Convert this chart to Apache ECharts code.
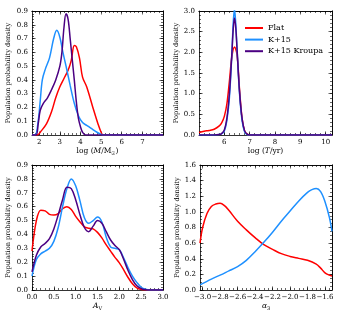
<!DOCTYPE html>
<html><head><meta charset="utf-8">
<script src="https://cdn.jsdelivr.net/npm/echarts@6/dist/echarts.min.js"></script>
<style>html,body{margin:0;padding:0;background:#fff}#c{width:340px;height:319px}</style>
</head><body><div id="c"></div>
<script>
// ---- Data ----
const seriesNames = ['Flat', 'K+15', 'K+15 Kroupa'];

// Panel 1: log(M/Msun)
const massFlatX = [1.65,1.9,2.1,2.35,2.6,2.8,3.0,3.2,3.4,3.55,3.7,3.8,3.95,4.1,4.3,4.6,4.85,5.0,5.1,8];
const massFlatY = [0,0,0.03,0.08,0.17,0.27,0.35,0.41,0.47,0.54,0.65,0.64,0.56,0.42,0.35,0.2,0.08,0.02,0,0];
const massK15X = [1.65,1.8,1.95,2.05,2.15,2.3,2.5,2.7,2.85,3.0,3.15,3.3,3.5,3.7,3.9,4.1,4.3,4.5,4.8,5.0,5.1,8];
const massK15Y = [0,0,0.1,0.25,0.4,0.48,0.56,0.7,0.76,0.71,0.6,0.5,0.36,0.23,0.14,0.09,0.07,0.05,0.02,0.005,0,0];
const massKrX = [1.65,1.85,1.95,2.05,2.2,2.4,2.6,2.8,3.0,3.1,3.2,3.3,3.4,3.5,3.6,3.7,3.8,3.9,4.0,4.1,4.25,8];
const massKrY = [0,0,0.08,0.18,0.23,0.27,0.33,0.4,0.5,0.6,0.78,0.88,0.84,0.7,0.55,0.4,0.24,0.12,0.06,0.02,0,0];

// Panel 2: log(T/yr)
const ageFlatX = [5.0,5.2,5.4,5.6,5.8,5.9,6.0,6.1,6.2,6.3,6.4,6.5,6.6,6.7,6.8,6.9,7.0,7.5,10.25];
const ageFlatY = [0.06,0.09,0.11,0.14,0.22,0.3,0.45,0.75,1.3,1.9,2.13,1.95,1.1,0.4,0.1,0.02,0,0,0];
const ageK15X = [5.0,5.6,5.8,5.9,6.0,6.1,6.2,6.3,6.35,6.4,6.45,6.5,6.6,6.7,6.8,6.9,7.0,10.25];
const ageK15Y = [0,0,0.01,0.03,0.1,0.35,0.9,2.0,2.7,3.05,2.7,2.1,1.0,0.35,0.08,0.01,0,0];
const ageKrX = [5.0,5.6,5.8,5.9,6.0,6.1,6.2,6.3,6.35,6.4,6.45,6.5,6.6,6.7,6.8,6.9,7.0,10.25];
const ageKrY = [0,0,0.01,0.04,0.12,0.4,1.0,2.0,2.55,2.83,2.6,2.1,1.05,0.4,0.1,0.02,0,0];

// Panel 3: Av
const avX = [0,0.1,0.2,0.3,0.4,0.5,0.6,0.7,0.8,0.9,1.0,1.1,1.2,1.3,1.4,1.5,1.6,1.7,1.8,1.9,2.0,2.1,2.2,2.3,2.4,2.5,2.6,2.7,2.8,2.9,3.0];
const avFlatY = [0.28,0.5,0.575,0.57,0.545,0.54,0.55,0.585,0.6,0.58,0.53,0.49,0.455,0.445,0.44,0.415,0.375,0.325,0.28,0.235,0.195,0.145,0.09,0.045,0.015,0.003,0,0,0,0,0];
const avK15Y = [0.1,0.22,0.26,0.28,0.3,0.35,0.45,0.6,0.73,0.8,0.75,0.64,0.52,0.48,0.5,0.525,0.49,0.38,0.31,0.3,0.29,0.23,0.16,0.1,0.055,0.02,0.005,0,0,0,0];
const avKrY = [0.13,0.25,0.31,0.335,0.37,0.44,0.54,0.65,0.74,0.73,0.65,0.54,0.45,0.42,0.46,0.5,0.48,0.42,0.36,0.32,0.29,0.22,0.14,0.075,0.03,0.01,0.002,0,0,0,0];

// Panel 4: alpha3
const a3FlatX = [-3.03,-3.0,-2.95,-2.9,-2.85,-2.8,-2.75,-2.7,-2.6,-2.5,-2.4,-2.3,-2.2,-2.1,-2.0,-1.9,-1.8,-1.7,-1.65,-1.6,-1.55,-1.52];
const a3FlatY = [0.6,0.8,0.98,1.07,1.1,1.11,1.08,1.02,0.88,0.77,0.67,0.58,0.52,0.465,0.43,0.405,0.38,0.33,0.28,0.22,0.19,0.18];
const a3K15X = [-3.03,-2.9,-2.8,-2.7,-2.6,-2.5,-2.4,-2.3,-2.2,-2.1,-2.0,-1.9,-1.8,-1.75,-1.7,-1.65,-1.6,-1.55,-1.52];
const a3K15Y = [0.065,0.14,0.19,0.245,0.3,0.38,0.49,0.61,0.74,0.88,1.01,1.14,1.25,1.285,1.3,1.26,1.13,0.93,0.75];

// Tick labels
const massXTicks = [2,3,4,5,6,7];
const densYTicks = [0,0.1,0.2,0.3,0.4,0.5,0.6,0.7,0.8,0.9];
const ageXTicks = [6,7,8,9,10];
const ageYTicks = [0,0.5,1.0,1.5,2.0,2.5,3.0];
const avXTicks = [0,0.5,1.0,1.5,2.0,2.5,3.0];
const a3XTicks = [-3.0,-2.8,-2.6,-2.4,-2.2,-2.0,-1.8,-1.6];
const a3YTicks = [0,0.2,0.4,0.6,0.8,1.0,1.2,1.4,1.6];

// ---- Styling / build ----
const FONT = 'DejaVu Serif';
const COLORS = ['#ff0000', '#1e90ff', '#4b0082'];
function range(a, b, s) { const r = []; const n = Math.round((b - a) / s); for (let i = 0; i <= n; i++) r.push(+(a + i * s).toFixed(4)); return r; }
function pairs(xs, ys) { return xs.map((x, i) => [x, ys[i]]); }

const grids = [], xAxes = [], yAxes = [], series = [];
const lineC = '#000';
function addPanel(rect, xr, yr, xMaj, xMin, yMaj, yMin, xFmt, yFmt, xName, xRich, xNameGap, yNameGap) {
  const gi = grids.length;
  grids.push({ left: rect[0], top: rect[1], width: rect[2], height: rect[3], containLabel: false });
  const base = (mn, mx) => ({ type: 'value', gridIndex: gi, min: mn, max: mx, splitLine: { show: false } });
  const xi = xAxes.length;
  xAxes.push(Object.assign(base(xr[0], xr[1]), {
    position: 'bottom',
    axisLine: { show: true, onZero: false, lineStyle: { color: lineC, width: 0.8 } },
    axisTick: { show: true, inside: true, length: 3.5, customValues: xMaj, lineStyle: { color: lineC, width: 0.7 } },
    axisLabel: { show: true, customValues: xMaj, formatter: xFmt, margin: 4, fontFamily: FONT, fontSize: 7, color: '#000' },
    name: xName, nameLocation: 'middle', nameGap: xNameGap,
    nameTextStyle: { fontFamily: FONT, fontSize: 7.5, color: '#000', rich: xRich }
  }));
  const tickOnly = (pos, vals, len) => Object.assign(base(xr[0], xr[1]), {
    position: pos,
    axisLine: { show: pos === 'top', onZero: false, lineStyle: { color: lineC, width: 0.8 } },
    axisTick: { show: true, inside: true, length: len, customValues: vals, lineStyle: { color: lineC, width: 0.6 } },
    axisLabel: { show: false }
  });
  xAxes.push(tickOnly('bottom', xMin, 2));
  xAxes.push(tickOnly('top', xMaj, 3.5));
  xAxes.push(tickOnly('top', xMin, 2));
  const yi = yAxes.length;
  yAxes.push(Object.assign(base(yr[0], yr[1]), {
    position: 'left',
    axisLine: { show: true, onZero: false, lineStyle: { color: lineC, width: 0.8 } },
    axisTick: { show: true, inside: true, length: 3.5, customValues: yMaj, lineStyle: { color: lineC, width: 0.7 } },
    axisLabel: { show: true, customValues: yMaj, formatter: yFmt, margin: 4, fontFamily: FONT, fontSize: 7, color: '#000' },
    name: 'Population probability density', nameLocation: 'middle', nameGap: yNameGap, nameRotate: 90,
    nameTextStyle: { fontFamily: FONT, fontSize: 6.6, color: '#000' }
  }));
  const yTickOnly = (pos, vals, len) => Object.assign(base(yr[0], yr[1]), {
    position: pos,
    axisLine: { show: pos === 'right', onZero: false, lineStyle: { color: lineC, width: 0.8 } },
    axisTick: { show: true, inside: true, length: len, customValues: vals, lineStyle: { color: lineC, width: 0.6 } },
    axisLabel: { show: false }
  });
  yAxes.push(yTickOnly('left', yMin, 2));
  yAxes.push(yTickOnly('right', yMaj, 3.5));
  yAxes.push(yTickOnly('right', yMin, 2));
  return { xi, yi };
}
function addLine(ax, name, ci, data) {
  series.push({
    type: 'line', name, xAxisIndex: ax.xi, yAxisIndex: ax.yi, data,
    smooth: 0.35, showSymbol: false, symbol: 'none', clip: true,
    lineStyle: { color: COLORS[ci], width: 1.5 }, itemStyle: { color: COLORS[ci] }
  });
}
const f1 = v => v.toFixed(1);
const fInt = v => String(Math.round(v));
const fNeg = v => (v < 0 ? '\u2212' : '') + Math.abs(v).toFixed(1);
const rich = {
  n: { fontFamily: FONT, fontSize: 7.5, color: '#000' },
  i: { fontFamily: FONT, fontSize: 7.5, fontStyle: 'italic', color: '#000' },
  s: { fontFamily: FONT, fontSize: 5, color: '#000', padding: [5, 0, 0, 0] }
};

const p1 = addPanel([32, 11, 131, 124], [1.65, 8], [0, 0.9], massXTicks, range(1.8, 8, 0.2), densYTicks, range(0, 0.9, 0.02),
  fInt, f1, '{n|log (}{i|M}{n|/M}{s|\u2609}{n|)}', rich, 9, 20);
addLine(p1, 'Flat', 0, pairs(massFlatX, massFlatY));
addLine(p1, 'K+15', 1, pairs(massK15X, massK15Y));
addLine(p1, 'K+15 Kroupa', 2, pairs(massKrX, massKrY));

const p2 = addPanel([199, 11, 133, 124], [5, 10.25], [0, 3], ageXTicks, range(5, 10.2, 0.2), ageYTicks, range(0, 3, 0.1),
  fInt, f1, '{n|log (}{i|T}{n|/yr)}', rich, 9, 17);
addLine(p2, 'Flat', 0, pairs(ageFlatX, ageFlatY));
addLine(p2, 'K+15', 1, pairs(ageK15X, ageK15Y));
addLine(p2, 'K+15 Kroupa', 2, pairs(ageKrX, ageKrY));

const p3 = addPanel([32, 165, 131, 125], [0, 3], [0, 0.9], avXTicks, range(0, 3, 0.1), densYTicks, range(0, 0.9, 0.02),
  f1, f1, '{i|A}{s|V}', rich, 9, 20);
addLine(p3, 'Flat', 0, pairs(avX, avFlatY));
addLine(p3, 'K+15', 1, pairs(avX, avK15Y));
addLine(p3, 'K+15 Kroupa', 2, pairs(avX, avKrY));

const p4 = addPanel([200, 165, 132, 125], [-3.03, -1.52], [0, 1.6], a3XTicks, range(-3.0, -1.55, 0.05), a3YTicks, range(0, 1.6, 0.05),
  fNeg, f1, '{i|\u03b1}{s|3}', rich, 9, 17);
addLine(p4, 'Flat', 0, pairs(a3FlatX, a3FlatY));
addLine(p4, 'K+15', 1, pairs(a3K15X, a3K15Y));

const chart = echarts.init(document.getElementById('c'), null, { renderer: 'canvas' });
chart.setOption({
  animation: false,
  backgroundColor: '#fff',
  grid: grids, xAxis: xAxes, yAxis: yAxes, series,
  legend: {
    data: seriesNames, orient: 'vertical', left: 240, top: 18,
    icon: 'rect', itemWidth: 18, itemHeight: 2, itemGap: 1.6,
    textStyle: { fontFamily: FONT, fontSize: 8, lineHeight: 10, color: '#000' }
  }
});
</script></body></html>
